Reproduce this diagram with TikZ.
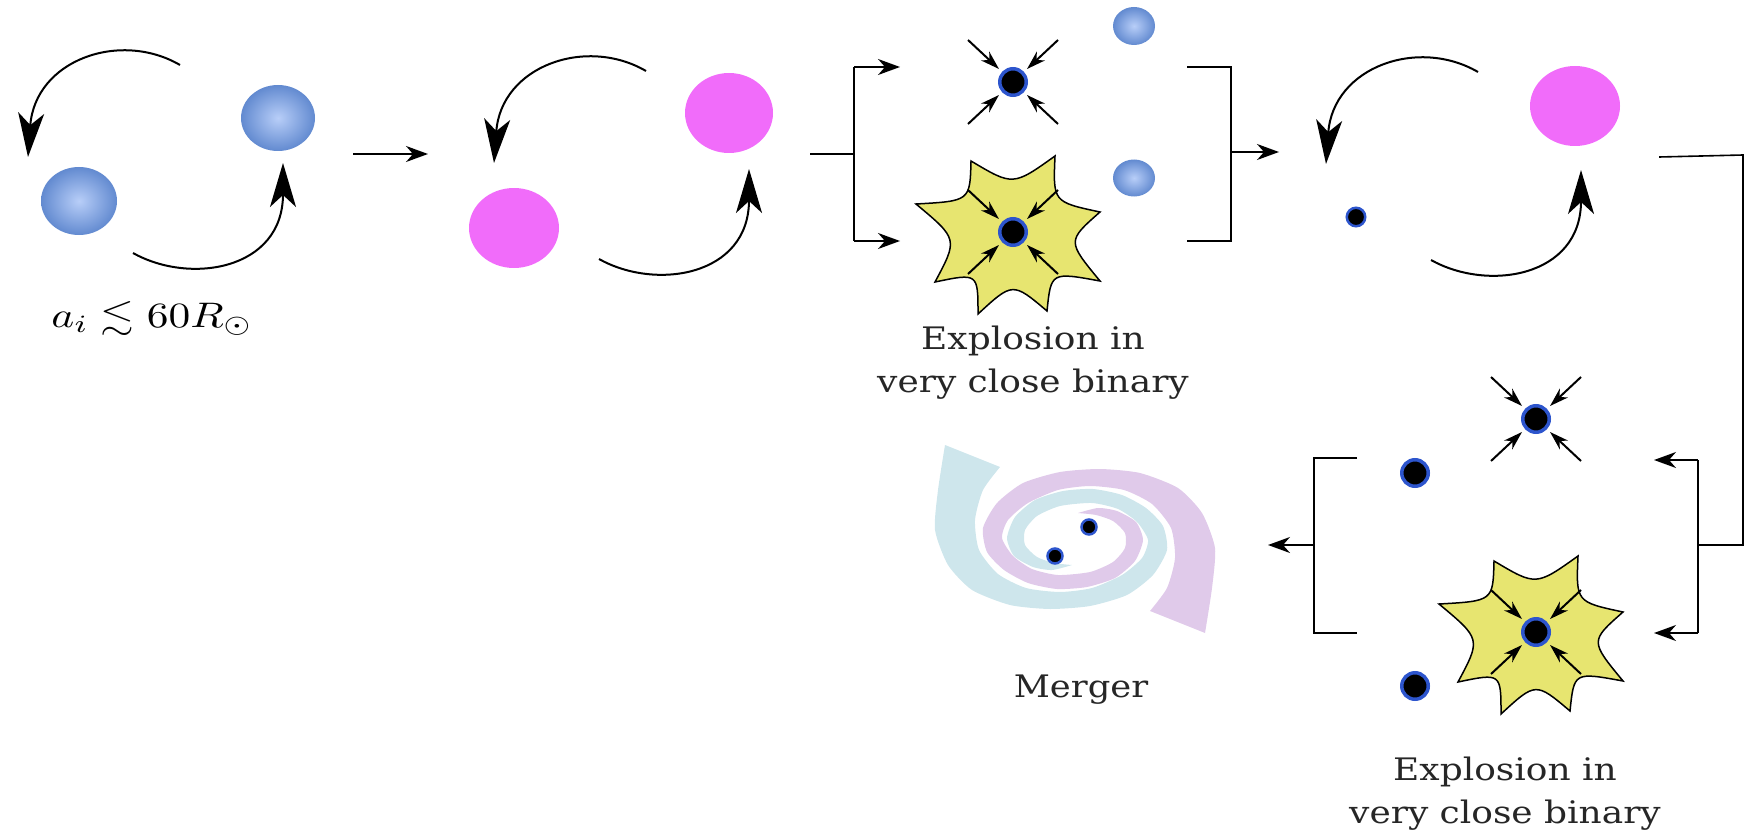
\documentclass[tikz,border=0pt]{standalone}
\usepackage{amssymb}
\usepackage{graphicx}
\usepackage[no-math]{fontspec}
\setmainfont{DejaVu Serif}
\usetikzlibrary{arrows.meta,shapes.geometric}

\definecolor{ballin}{RGB}{184,206,248}
\definecolor{ballout}{RGB}{98,138,208}
\definecolor{pinkc}{RGB}{241,108,250}
\definecolor{burstc}{RGB}{231,229,112}
\definecolor{bhblue}{RGB}{45,85,205}
\definecolor{cyanband}{RGB}{206,230,236}
\definecolor{lavband}{RGB}{224,202,234}

% two-line caption, widened a little
\newcommand{\twoline}[2]{\scalebox{1.16}[1]{\begin{tabular}[t]{@{}c@{}}#1\\#2\end{tabular}}}

\tikzset{
  wire/.style={line width=1.6pt},
  flow/.style={line width=1.6pt, -{Stealth[length=22pt,width=16pt,inset=7pt]}},
  orbit/.style={line width=2pt, -{Stealth[length=44pt,width=26pt,inset=12pt]}},
  infall/.style={line width=2pt, -{Stealth[length=19pt,width=12pt,inset=6pt]}},
  ball/.style={ellipse, inner sep=0pt, inner color=ballin, outer color=ballout},
  pinkball/.style={ellipse, inner sep=0pt, fill=pinkc},
  bh/.style={circle, inner sep=0pt, fill=black, draw=bhblue, line width=3.5pt},
  label/.style={inner sep=0pt, text=black!85},
  pics/infall/.style={code={
    \foreach \sx/\sy in {-1/-1,1/-1,-1/1,1/1}
      \draw[infall] (45*\sx,42*\sy) -- (14*\sx,13*\sy);
  }},
  pics/burst/.style={code={
    \filldraw[fill=burstc, draw=black, line width=1.5pt, line join=miter]
      (-42,-71) .. controls (0,-46) .. (42,-76)
      .. controls (40,-30) .. (87,-20)
      .. controls (54,9) .. (87,49)
      .. controls (38,40) .. (34,79)
      .. controls (-0.3,50) .. (-35,82)
      .. controls (-35,41) .. (-78,50)
      .. controls (-55,7) .. (-97,-28)
      .. controls (-43,-31) .. cycle;
  }},
  pics/orbits/.style={code={
    \draw[orbit] (180,65) .. controls (120,30) and (35,60) .. (28,157);
    \draw[orbit] (133,253) .. controls (190,285) and (283,270) .. (283,163);
  }}
}

\begin{document}
\begin{tikzpicture}[x=1pt, y=-1pt, font=\fontsize{31}{43}\selectfont]
\useasboundingbox (0,0) rectangle (1744,837);

% ---------- stage 1: two main-sequence stars ----------
\pic at (0,0) {orbits};
\node[ball, minimum width=76pt, minimum height=68pt] (ms1) at (79,201) {};
\node[ball, minimum width=74pt, minimum height=66pt] (ms2) at (278,118) {};
\node[anchor=base, inner sep=0pt] (sep) at (152,327)
  {\scalebox{4.35}[3.55]{\fontsize{10}{12}\selectfont $a_i \lesssim 60R_\odot$}};

\coordinate (s1out) at (353,154);
\coordinate (s2in) at (428,154);
\draw[flow] (s1out) -- (s2in);

% ---------- stage 2: two evolved stars ----------
\pic at (466,6) {orbits};
\node[pinkball, minimum width=90pt, minimum height=80pt] (he1) at (514,228) {};
\node[pinkball, minimum width=88pt, minimum height=80pt] (he2) at (729,113) {};

% ---------- stage 3: first collapse, two branches ----------
\coordinate (f1in) at (810,154);
\coordinate (f1mid) at (854,154);
\coordinate (f1top) at (854,67);
\coordinate (f1bot) at (854,241);
\coordinate (f1topend) at (900,67);
\coordinate (f1botend) at (900,241);
\draw[wire] (f1in) -- (f1mid);
\draw[wire] (f1top) -- (f1bot);
\draw[flow] (f1top) -- (f1topend);
\draw[flow] (f1bot) -- (f1botend);

\pic at (1013,82) {infall};
\node[bh, minimum size=26.5pt] (bhA) at (1013,82) {};
\node[ball, minimum width=42pt, minimum height=38pt] (cmpA) at (1134,26) {};

\pic at (1013,232) {burst};
\pic at (1013,232) {infall};
\node[bh, minimum size=26.5pt] (bhB) at (1013,232) {};
\node[ball, minimum width=42pt, minimum height=37pt] (cmpB) at (1134,178) {};

\node[label, anchor=base] (txt1) at (1033,349) {\twoline{Explosion in}{very close binary}};

\coordinate (r1top) at (1187,67);
\coordinate (r1topc) at (1231,67);
\coordinate (r1botc) at (1231,241);
\coordinate (r1bot) at (1187,241);
\coordinate (r1mid) at (1231,152);
\coordinate (s4in) at (1279,152);
\draw[wire] (r1top) -- (r1topc) -- (r1botc) -- (r1bot);
\draw[flow] (r1mid) -- (s4in);

% ---------- stage 4: compact object + evolved star ----------
\pic at (1298,7) {orbits};
\node[bh, minimum size=18.5pt, line width=2.5pt] (bhC) at (1356,217) {};
\node[pinkball, minimum width=90pt, minimum height=80pt] (he3) at (1575,106) {};

\coordinate (c4out) at (1659,157);
\coordinate (c4corner) at (1743,155);
\coordinate (c4down) at (1743,545);
\coordinate (f2mid) at (1698,545);
\coordinate (f2top) at (1698,460);
\coordinate (f2bot) at (1698,633);
\coordinate (f2topend) at (1654,460);
\coordinate (f2botend) at (1654,633);
\draw[wire] (c4out) -- (c4corner) -- (c4down) -- (f2mid);
\draw[wire] (f2top) -- (f2bot);
\draw[flow] (f2top) -- (f2topend);
\draw[flow] (f2bot) -- (f2botend);

% ---------- stage 5: second collapse, two branches ----------
\pic at (1536,419) {infall};
\node[bh, minimum size=26.5pt] (bhD) at (1536,419) {};
\node[bh, minimum size=26.5pt] (bhE) at (1415,473) {};

\pic at (1536,632) {burst};
\pic at (1536,632) {infall};
\node[bh, minimum size=26.5pt] (bhF) at (1536,632) {};
\node[bh, minimum size=26.5pt] (bhG) at (1415,686) {};

\node[label, anchor=base] (txt2) at (1505,780) {\twoline{Explosion in}{very close binary}};

\coordinate (l2top) at (1357,458);
\coordinate (l2topc) at (1314,458);
\coordinate (l2botc) at (1314,633);
\coordinate (l2bot) at (1357,633);
\coordinate (l2mid) at (1314,545);
\coordinate (mrgin) at (1268,545);
\draw[wire] (l2top) -- (l2topc) -- (l2botc) -- (l2bot);
\draw[flow] (l2mid) -- (mrgin);

% ---------- stage 6: merger of the two compact objects ----------
\begin{scope}
  \def\arm{
    plot[smooth, tension=0.4] coordinates {(945,445) (938,490) (935,530) (948,565)
      (972,590) (1010,605) (1050,609) (1090,606) (1127,595) (1153,575) (1167,550)
      (1163,526) (1146,508) (1122,495) (1093,489) (1063,491) (1035,500) (1015,517)
      (1007,538) (1014,556) (1033,567) (1052,570) (1072,565)}
    -- plot[smooth, tension=0.4] coordinates {(1072,565) (1054,563) (1037,557)
      (1025,545) (1025,530) (1037,516) (1060,506) (1092,503) (1118,509) (1137,522)
      (1148,540) (1142,558) (1122,575) (1092,588) (1060,592) (1026,588) (998,574)
      (979,550) (975,520) (983,490) (1000,467)} -- cycle}
  \fill[cyanband] \arm;
  \fill[lavband, rotate around={180:(1075,539)}] \arm;
\end{scope}
\node[bh, minimum size=15pt, line width=2.5pt] (bhM1) at (1055,556) {};
\node[bh, minimum size=15pt, line width=2.5pt] (bhM2) at (1089,527) {};
\node[label, anchor=base] (txt3) at (1081,697) {\scalebox{1.14}[1]{Merger}};

\end{tikzpicture}
\end{document}
